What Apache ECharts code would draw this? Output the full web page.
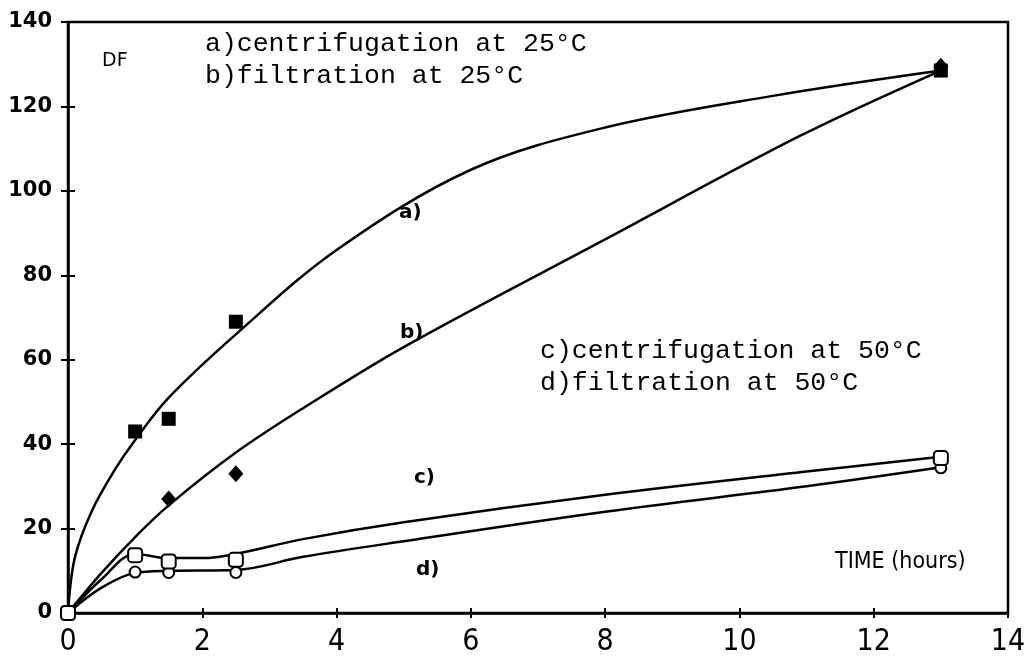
<!DOCTYPE html>
<html>
<head>
<meta charset="utf-8">
<script src="https://cdn.jsdelivr.net/npm/echarts@6/dist/echarts.min.js"></script>
<style>
  html, body { margin: 0; padding: 0; background: #fff; }
  #chart { width: 1029px; height: 661px; }
</style>
</head>
<body>
<div id="chart"></div>
<script>
// Axis ticks
const xTicks = [0, 2, 4, 6, 8, 10, 12, 14];
const yTicks = [0, 20, 40, 60, 80, 100, 120, 140];

// Measured decontamination factor (DF) versus time in hours
const aPoints = [[1, 43], [1.5, 46], [2.5, 69], [13, 128.5]];        // centrifugation 25°C
const bPoints = [[1.5, 27], [2.5, 33], [13, 129.5]];                 // filtration 25°C
const cPoints = [[0, 0], [1, 13.7], [1.5, 12.2], [2.5, 12.6], [13, 36.7]]; // centrifugation 50°C
const dPoints = [[1, 9.7], [1.5, 9.6], [2.5, 9.6], [13, 34.4]];      // filtration 50°C

// Hand-fitted trend curves through each data set
const aCurve = [[0, 0], [0.1, 13], [0.35, 24], [0.7, 34], [1, 41], [1.5, 51], [2.5, 66], [4, 86], [6, 105], [8, 115], [10.5, 122.5], [13, 128.5]];
const bCurve = [[0, 0], [0.5, 9.5], [1, 18], [1.5, 25.5], [2.5, 38], [3.5, 48.5], [5, 63], [8, 88.5], [10.9, 113], [13, 128.5]];
const cCurve = [[0, 0], [0.5, 8], [1, 14], [1.5, 13], [2, 13], [2.5, 14], [3.5, 17.5], [5, 21.5], [8, 28], [11, 33.5], [13, 37]];
const dCurve = [[0, 0], [0.5, 6], [1, 9.5], [1.5, 10], [2.5, 10.2], [3.5, 13.3], [5, 17], [8, 24], [11, 30], [13, 34.5]];

const ink = '#000';
const chart = echarts.init(document.getElementById('chart'), null, { renderer: 'canvas' });

function curve(data) {
  return {
    type: 'line', data: data, showSymbol: false, smooth: 0.35,
    lineStyle: { color: ink, width: 2.5 }, silent: true, z: 2
  };
}
function markers(data, symbol, size, filled, z) {
  return {
    type: 'scatter', data: data, symbol: symbol, symbolSize: size, z: z,
    itemStyle: filled
      ? { color: ink, opacity: 1 }
      : { color: '#fff', borderColor: ink, borderWidth: 2, opacity: 1 }
  };
}

const xMin = xTicks[0], xMax = xTicks[xTicks.length - 1], xStep = xTicks[1] - xTicks[0];
const yMin = yTicks[0], yMax = yTicks[yTicks.length - 1], yStep = yTicks[1] - yTicks[0];

const grid = { left: 68, right: 21, top: 22, bottom: 48, show: true, borderColor: ink, borderWidth: 2.5, containLabel: false };

const tickFontX = { color: ink, fontFamily: '"Liberation Sans Narrow", "DejaVu Sans Condensed", sans-serif', fontSize: 30, margin: 14 };
const tickFontY = { color: ink, fontFamily: 'DejaVu Sans', fontSize: 21, fontWeight: 'bold', margin: 16 };
const monoText = { fill: ink, font: '26.5px "Liberation Mono"' };
const sansText = { fill: ink, font: 'bold 20px "DejaVu Sans"' };

chart.setOption({
  animation: false,
  backgroundColor: '#fff',
  grid: grid,
  xAxis: [
    { type: 'value', min: xMin, max: xMax, interval: xStep, splitLine: { show: false },
      axisLine: { lineStyle: { color: ink, width: 2.5 } },
      axisTick: { show: true, length: 5, lineStyle: { color: ink, width: 2 } },
      axisLabel: tickFontX },
    { type: 'value', min: xMin, max: xMax, interval: xStep, position: 'bottom', splitLine: { show: false },
      axisLine: { show: false },
      axisTick: { show: true, inside: true, length: 5, lineStyle: { color: ink, width: 2 } },
      axisLabel: { show: false } }
  ],
  yAxis: [
    { type: 'value', min: yMin, max: yMax, interval: yStep, splitLine: { show: false },
      axisLine: { lineStyle: { color: ink, width: 2.5 } },
      axisTick: { show: true, length: 7, lineStyle: { color: ink, width: 2 } },
      axisLabel: tickFontY },
    { type: 'value', min: yMin, max: yMax, interval: yStep, position: 'left', splitLine: { show: false },
      axisLine: { show: false },
      axisTick: { show: true, inside: true, length: 7, lineStyle: { color: ink, width: 2 } },
      axisLabel: { show: false } }
  ],
  series: [
    curve(aCurve), curve(bCurve), curve(cCurve), curve(dCurve),
    markers(bPoints, 'diamond', [15, 17], true, 4),
    markers(aPoints, 'rect', 14, true, 5),
    markers(dPoints, 'circle', 11, false, 5),
    markers(cPoints, 'roundRect', 14, false, 6)
  ],
  graphic: [
    { type: 'text', left: 102, top: 52, style: { text: 'DF', fill: ink, font: '19px "DejaVu Sans"' } },
    { type: 'text', left: 205, top: 30, style: Object.assign({ text: 'a)centrifugation at 25°C' }, monoText) },
    { type: 'text', left: 205, top: 62, style: Object.assign({ text: 'b)filtration at 25°C' }, monoText) },
    { type: 'text', left: 540, top: 337, style: Object.assign({ text: 'c)centrifugation at 50°C' }, monoText) },
    { type: 'text', left: 540, top: 369, style: Object.assign({ text: 'd)filtration at 50°C' }, monoText) },
    { type: 'text', left: 399, top: 203, style: Object.assign({ text: 'a)' }, sansText) },
    { type: 'text', left: 400, top: 323, style: Object.assign({ text: 'b)' }, sansText) },
    { type: 'text', left: 414, top: 468, style: Object.assign({ text: 'c)' }, sansText) },
    { type: 'text', left: 416, top: 560, style: Object.assign({ text: 'd)' }, sansText) },
    { type: 'text', left: 835, top: 551, style: { text: 'TIME (hours)', fill: ink, font: '23px "DejaVu Sans Condensed"' } }
  ]
});
</script>
</body>
</html>
